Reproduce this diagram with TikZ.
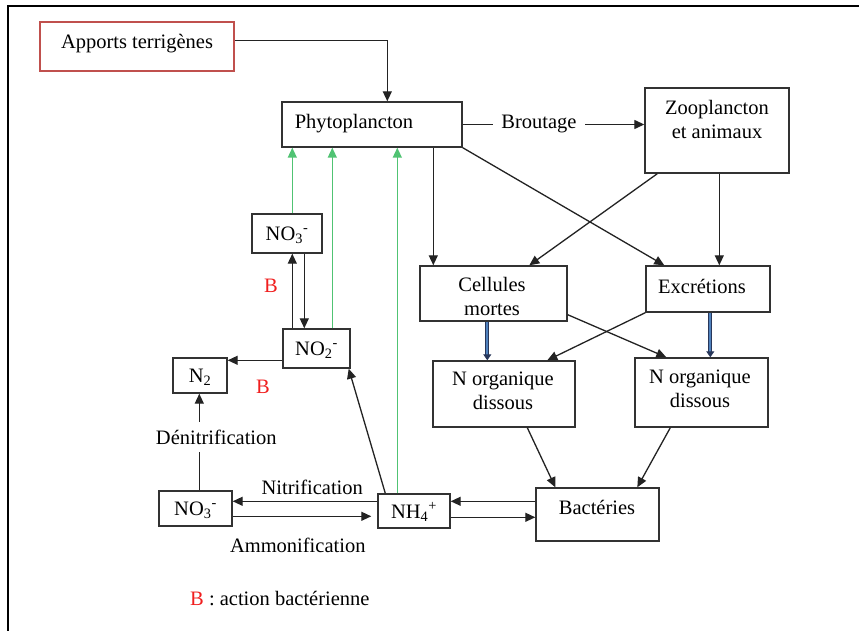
\documentclass[tikz,border=0pt]{standalone}
\usepackage{fontspec}
\setmainfont{Liberation Serif}
\usetikzlibrary{arrows.meta,calc}
\definecolor{lineclr}{RGB}{35,35,35}
\definecolor{boxclr}{RGB}{50,50,50}
\definecolor{redbox}{RGB}{192,80,77}
\definecolor{uptake}{RGB}{80,195,115}
\definecolor{navyedge}{RGB}{40,55,90}
\definecolor{blueflow}{RGB}{79,129,189}
\definecolor{bred}{RGB}{240,30,30}
\tikzset{
  box/.style={draw=boxclr, line width=1.4pt, inner sep=0pt},
  txt/.style={inner sep=0pt, align=center, font=\fontsize{20.5}{24}\selectfont},
  arr/.style={draw=lineclr, line width=1.3pt, -{Triangle[length=10pt,width=9pt]}},
  greenarr/.style={draw=uptake, line width=1.4pt, -{Triangle[length=10pt,width=9pt,color=uptake]}},
  bluearr/.style={draw=navyedge, line width=1pt, double=blueflow, double distance=2.2pt,
                  -{Triangle[length=6pt,width=8pt,color=navyedge]}},
  redlbl/.style={txt, text=bred}
}
\begin{document}
\begin{tikzpicture}[x=1pt,y=-1pt]
\useasboundingbox (0,0) rectangle (859,631);
\fill[white] (0,0) rectangle (859,631);
% frame
\draw[line width=2.2pt, black] (8,631) -- (8,6) -- (859,6);

% boxes
\node[box, draw=redbox, line width=2.4pt, minimum width=194pt, minimum height=49pt] (app) at (137,46.5) {};
\node[txt] (appt) at (137,44) {Apports terrigènes};
\node[box, minimum width=180pt, minimum height=45pt] (phy) at (372,124.5) {};
\node[txt] (phyt) at (354,124) {Phytoplancton};
\node[box, minimum width=144pt, minimum height=85pt] (zoo) at (717,130.5) {};
\node[txt] (zoot) at (717,119) {Zooplancton\\et animaux};
\node[box, minimum width=147pt, minimum height=55pt] (cel) at (493.5,293.5) {};
\node[txt] (celt) at (492,296) {Cellules\\mortes};
\node[box, minimum width=124pt, minimum height=46pt] (exc) at (708,289) {};
\node[txt] (exct) at (702,286) {Excrétions};
\node[box, minimum width=142pt, minimum height=66pt] (noa) at (504,394) {};
\node[txt] (noat) at (503,391) {N organique\\dissous};
\node[box, minimum width=133pt, minimum height=69pt] (nob) at (701.5,392.5) {};
\node[txt] (nobt) at (700,389) {N organique\\dissous};
\node[box, minimum width=123pt, minimum height=53pt] (bac) at (597.5,514.5) {};
\node[txt] (bact) at (597,507) {Bactéries};
\node[box, minimum width=72pt, minimum height=34pt] (nh4) at (414,511) {};
\node[txt] (nh4t) at (414,512) {NH\textsubscript{4}\textsuperscript{+}};
\node[box, minimum width=73pt, minimum height=35pt] (nob3) at (195.5,508.5) {};
\node[txt] (nob3t) at (195.5,510) {NO\textsubscript{3}\textsuperscript{-}};
\node[box, minimum width=54pt, minimum height=35pt] (n2) at (200,375.5) {};
\node[txt] (n2t) at (200,377) {N\textsubscript{2}};
\node[box, minimum width=67pt, minimum height=39pt] (no2) at (316.5,348.5) {};
\node[txt] (no2t) at (316.5,350) {NO\textsubscript{2}\textsuperscript{-}};
\node[box, minimum width=70pt, minimum height=39pt] (no3) at (287,233.5) {};
\node[txt] (no3t) at (287,235) {NO\textsubscript{3}\textsuperscript{-}};

% inputs and grazing
\draw[arr] ($(app.north east)+(0,20)$) -| ($(phy.north west)+(106,0)$);
\draw[arr] (phy.east) -- node[txt, pos=0.42, fill=white, inner xsep=8pt, inner ysep=2pt] (brou) {Broutage} (phy.east -| zoo.west);

% fate of phytoplankton and zooplankton
\draw[arr] ($(phy.south west)+(152,0)$) -- ($(cel.north west)+(14,0)$);
\draw[arr] (phy.south east) -- ($(exc.north west)+(19,0)$);
\draw[arr] ($(zoo.south west)+(13,0)$) -- ($(cel.north west)+(110,0)$);
\draw[arr] ($(zoo.south west)+(75,0)$) -- ($(exc.north west)+(74,0)$);

% towards dissolved organic nitrogen
\draw[arr] ($(cel.south east)+(0,-7)$) -- ($(nob.north west)+(32,0)$);
\draw[arr] (exc.south west) -- ($(noa.north west)+(115,0)$);
\draw[bluearr] ($(cel.south west)+(68,0)$) -- ($(noa.north west)+(55,0)$);
\draw[bluearr] ($(exc.south west)+(65,0)$) -- ($(nob.north west)+(76,0)$);

% bacteria
\draw[arr] ($(noa.south west)+(95,0)$) -- ($(bac.north west)+(20,0)$);
\draw[arr] ($(nob.south west)+(36,0)$) -- ($(bac.north west)+(102,0)$);
\draw[arr] ($(bac.north west)+(0,14)$) -- ($(nh4.north east)+(0,8)$);
\draw[arr] ($(nh4.north east)+(0,24)$) -- ($(bac.north west)+(0,30)$);

% nitrogen cycle
\draw[arr] ($(nh4.north west)+(0,8)$) -- node[txt, pos=0.45, above=6pt] (nitr) {Nitrification} ($(nob3.north east)+(0,11)$);
\draw[arr, shorten >=6pt] ($(nob3.north east)+(0,26)$) -- node[txt, pos=0.45, below=21pt] (ammo) {Ammonification} ($(nh4.north west)+(0,23)$);
\draw[arr] ($(nob3.north west)+(41,0)$) -- node[txt, pos=0.55, fill=white, inner ysep=8pt, inner xsep=2pt, xshift=17pt] (deni) {Dénitrification} ($(n2.south west)+(27,0)$);
\draw[arr] ($(no2.north west)+(0,32)$) -- ($(n2.north east)+(0,3)$);
\draw[arr] ($(no2.north west)+(10,0)$) -- ($(no3.south west)+(41,0)$);
\draw[arr] ($(no3.south west)+(53,0)$) -- ($(no2.north west)+(22,0)$);
\draw[arr] ($(nh4.north west)+(8,0)$) -- ($(no2.south east)+(-2,0)$);
\node[redlbl] (b1) at (271,286) {B};
\node[redlbl] (b2) at (263,387) {B};

% uptake by phytoplankton
\draw[greenarr] ($(no3.north west)+(41,0)$) -- ($(phy.south west)+(11,0)$);
\draw[greenarr] ($(no2.north west)+(50,0)$) -- ($(phy.south west)+(51,0)$);
\draw[greenarr] ($(nh4.north west)+(20,0)$) -- ($(phy.south west)+(116,0)$);

% legend
\node[txt, anchor=west] (legend) at (190,599) {\textcolor{bred}{B} : action bactérienne};
\end{tikzpicture}
\end{document}
